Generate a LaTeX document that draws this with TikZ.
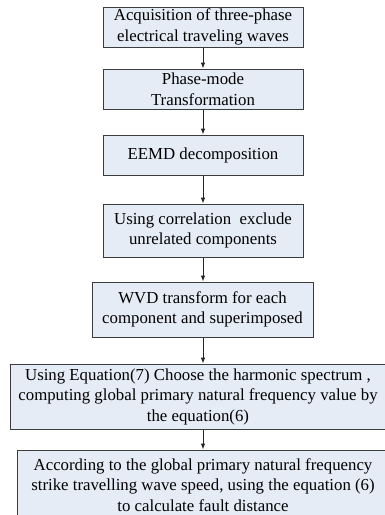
\documentclass[tikz,border=0pt]{standalone}
\usepackage{fontspec}
\setmainfont{Liberation Serif}
\usepackage{tikz}
\usetikzlibrary{arrows.meta, positioning}
\usepackage{xcolor}
\definecolor{step-fill}{RGB}{230,236,246}
\definecolor{step-line}{RGB}{60,60,60}

\tikzset{
	stage/.style={draw=step-line, line width=0.75pt, fill=step-fill, align=center, inner sep=0pt,
		font=\fontsize{12.6}{15.4}\selectfont},
	flow/.style={-{Latex[length=4.5pt,width=3.5pt]}, line width=0.75pt, black!85}
}

\begin{document}
\begin{tikzpicture}[x=0.75pt, y=-0.75pt]
					\useasboundingbox (0,0) rectangle (385,515);
					
					\node[stage, minimum width=150pt, minimum height=30pt] at (203,27) (acq) {Acquisition of three-phase\\electrical traveling waves};
					\node[stage, minimum width=150pt, minimum height=30pt] at (203,89) (pm) {Phase-mode\\Transformation};
					\node[stage, minimum width=150pt, minimum height=30pt] at (203,155) (eemd) {EEMD decomposition};
					\node[stage, minimum width=150pt, minimum height=39.75pt] at (203,230.5) (corr) {Using correlation~ exclude\\unrelated components};
					\node[stage, minimum width=165.75pt, minimum height=41.25pt] at (202.5,309.5) (wvd) {WVD transform for each\\component and superimposed};
					\node[stage, minimum width=282pt, minimum height=48.75pt] at (198,396.5) (freq) {Using Equation(7) Choose the harmonic spectrum ,\\computing global primary natural frequency value by\\the equation(6)};
					\node[stage, minimum width=279pt, minimum height=52.5pt] at (203,485) (dist) {According to the global primary natural frequency\\strike travelling wave speed, using the equation (6)\\to calculate fault distance};
					
					\draw[flow] (acq) -- (pm);
					\draw[flow] (pm) -- (eemd);
					\draw[flow] (eemd) -- (corr);
					\draw[flow] (corr) -- (wvd.north -| corr.south);
					\draw[flow] (wvd.south -| corr.south) -- (freq.north -| corr.south);
					\draw[flow] (freq.south -| corr.south) -- (dist);
				\end{tikzpicture}
\end{document}
